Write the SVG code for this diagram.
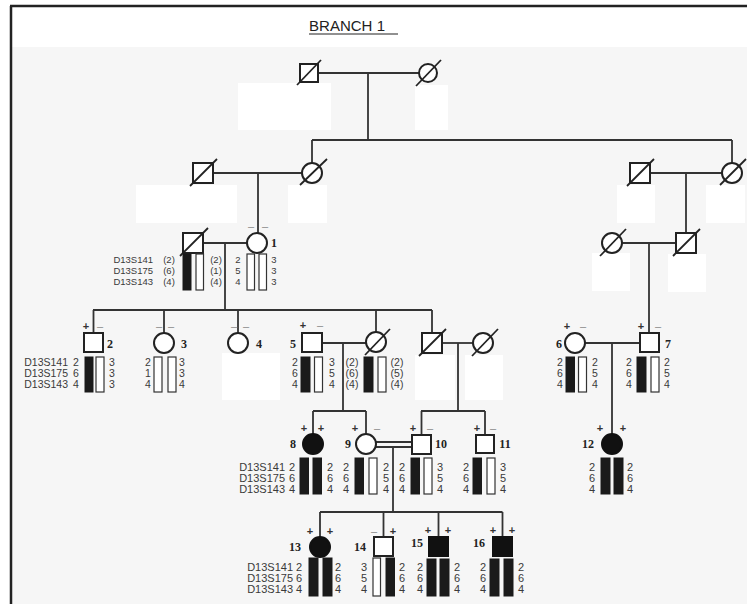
<svg xmlns="http://www.w3.org/2000/svg" width="747" height="604" viewBox="0 0 747 604">
<style>
.ln{stroke:#333;stroke-width:1.8;fill:none}
.sym{stroke:#222;stroke-width:2;fill:#fff}
.aff{stroke:#111;stroke-width:2;fill:#111}
.sl{stroke:#222;stroke-width:1.8}
.bf{fill:#1a1a1a;stroke:#1a1a1a;stroke-width:1}
.be{fill:#fff;stroke:#333;stroke-width:1.2}
.al{font-family:"Liberation Sans",Arial,sans-serif;fill:#3a3a3a;text-anchor:middle}
.nm{font-family:"Liberation Sans",Arial,sans-serif;fill:#3a3a3a;text-anchor:end}
.s3{font-size:9.5px}
.s4{font-size:10.5px}
.s5{font-size:11px}
.lb{font-family:"Liberation Serif","Times New Roman",serif;font-weight:bold;font-size:12px;fill:#222;text-anchor:middle}
.pm{font-family:"Liberation Sans",Arial,sans-serif;font-size:11px;font-weight:bold;fill:#333;text-anchor:middle}
.mn{fill:#888;font-weight:normal}
.wb{fill:#fff}
</style>
<rect x="0" y="0" width="747" height="604" fill="#fff"/>
<rect x="12" y="47" width="735" height="557" fill="#f6f6f6"/>
<g id="masks">
<rect class="wb" x="238" y="83" width="93" height="47"/>
<rect class="wb" x="415" y="85" width="33" height="45"/>
<rect class="wb" x="136" y="185" width="101" height="38"/>
<rect class="wb" x="288" y="185" width="39" height="38"/>
<rect class="wb" x="617" y="185" width="38" height="38"/>
<rect class="wb" x="706" y="185" width="39" height="38"/>
<rect class="wb" x="592" y="253" width="38" height="38"/>
<rect class="wb" x="668" y="254" width="38" height="38"/>
<rect class="wb" x="222" y="353" width="58" height="47"/>
<rect class="wb" x="415" y="355" width="40" height="45"/>
<rect class="wb" x="465" y="355" width="38" height="45"/>
</g>
<g id="frame">
<line x1="10" y1="6" x2="747" y2="6" stroke="#222" stroke-width="2.5"/>
<line x1="11" y1="6" x2="11" y2="604" stroke="#222" stroke-width="2.5"/>
</g>
<g id="title">
<text x="309" y="31" font-family="Liberation Sans,Arial,sans-serif" font-size="15" fill="#222" textLength="76" lengthAdjust="spacingAndGlyphs">BRANCH 1</text>
<line x1="309" y1="34" x2="398" y2="34" stroke="#222" stroke-width="1.2"/>
</g>
<g id="connectors" class="ln">
<line x1="318" y1="73" x2="419" y2="73"/>
<line x1="368" y1="73" x2="368" y2="140"/>
<line x1="312" y1="140" x2="732" y2="140"/>
<line x1="312" y1="140" x2="312" y2="163"/>
<line x1="732" y1="140" x2="732" y2="163"/>
<line x1="213" y1="173" x2="302" y2="173"/>
<line x1="258" y1="173" x2="258" y2="233"/>
<line x1="650" y1="173" x2="722" y2="173"/>
<line x1="686" y1="173" x2="686" y2="233"/>
<line x1="203" y1="243" x2="247" y2="243"/>
<line x1="225" y1="243" x2="225" y2="310"/>
<line x1="622" y1="243" x2="676" y2="243"/>
<line x1="649" y1="243" x2="649" y2="333"/>
<line x1="93" y1="310" x2="432" y2="310"/>
<line x1="93.5" y1="310" x2="93.5" y2="333"/>
<line x1="164" y1="310" x2="164" y2="333"/>
<line x1="238" y1="310" x2="238" y2="333"/>
<line x1="376" y1="310" x2="376" y2="332"/>
<line x1="432" y1="310" x2="432" y2="333"/>
<line x1="322" y1="343" x2="366" y2="343"/>
<line x1="343" y1="343" x2="343" y2="411"/>
<line x1="442" y1="343" x2="473" y2="343"/>
<line x1="458" y1="343" x2="458" y2="411"/>
<line x1="585" y1="343" x2="640" y2="343"/>
<line x1="612" y1="343" x2="612" y2="434"/>
<line x1="313" y1="411" x2="366" y2="411"/>
<line x1="313" y1="411" x2="313" y2="434"/>
<line x1="366" y1="411" x2="366" y2="434"/>
<line x1="421" y1="411" x2="485" y2="411"/>
<line x1="421.5" y1="411" x2="421.5" y2="435"/>
<line x1="485" y1="411" x2="485" y2="435"/>
<line x1="376" y1="442" x2="412" y2="442"/>
<line x1="376" y1="447" x2="412" y2="447"/>
<line x1="393" y1="447" x2="393" y2="512"/>
<line x1="320" y1="512" x2="502.5" y2="512"/>
<line x1="320" y1="512" x2="320" y2="537"/>
<line x1="383.5" y1="512" x2="383.5" y2="537"/>
<line x1="438.5" y1="512" x2="438.5" y2="536"/>
<line x1="502.5" y1="512" x2="502.5" y2="536"/>
</g>
<g id="I1"><rect class="sym" x="300" y="64" width="18" height="18"/><line class="sl" x1="297" y1="85" x2="321" y2="60"/></g>
<g id="I2"><circle class="sym" cx="428" cy="73" r="9"/><line class="sl" x1="416" y1="86" x2="441" y2="60"/></g>
<g id="II1"><rect class="sym" x="193" y="163" width="20" height="20"/><line class="sl" x1="190" y1="186" x2="217" y2="159"/></g>
<g id="II2"><circle class="sym" cx="312" cy="173" r="10"/><line class="sl" x1="300" y1="185" x2="327" y2="159"/></g>
<g id="II3"><rect class="sym" x="630" y="163" width="20" height="20"/><line class="sl" x1="627" y1="186" x2="654" y2="159"/></g>
<g id="II4"><circle class="sym" cx="732" cy="173" r="10"/><line class="sl" x1="720" y1="185" x2="746" y2="159"/></g>
<g id="III1">
<rect class="sym" x="183" y="233" width="20" height="20"/><line class="sl" x1="180" y1="256" x2="208" y2="228"/>
<text class="nm s3"><tspan x="153" y="263">D13S141</tspan><tspan x="153" y="274">D13S175</tspan><tspan x="153" y="285">D13S143</tspan></text>
<text class="al s3"><tspan x="169" y="263">(2)</tspan><tspan x="169" y="274">(6)</tspan><tspan x="169" y="285">(4)</tspan></text>
<rect class="bf" x="183" y="254" width="8" height="36"/><rect class="be" x="196" y="254" width="7.5" height="36"/>
<text class="al s3"><tspan x="216" y="263">(2)</tspan><tspan x="216" y="274">(1)</tspan><tspan x="216" y="285">(4)</tspan></text>
</g>
<g id="ind1">
<circle class="sym" cx="257" cy="243" r="10"/>
<text class="pm mn" x="251" y="230">–</text><text class="pm mn" x="265" y="230">–</text>
<text class="lb" x="274" y="247">1</text>
<text class="al s3"><tspan x="238" y="263">2</tspan><tspan x="238" y="274">5</tspan><tspan x="238" y="285">4</tspan></text>
<rect class="be" x="247" y="254" width="7.5" height="36"/><rect class="be" x="259" y="254" width="7.5" height="36"/>
<text class="al s3"><tspan x="274" y="263">3</tspan><tspan x="274" y="274">3</tspan><tspan x="274" y="285">3</tspan></text>
</g>
<g id="III3"><circle class="sym" cx="612" cy="243" r="10"/><line class="sl" x1="600" y1="256" x2="626" y2="229"/></g>
<g id="III4"><rect class="sym" x="676" y="233" width="20" height="20"/><line class="sl" x1="673" y1="256" x2="700" y2="229"/></g>
<g id="ind2">
<rect class="sym" x="84" y="333" width="19" height="19"/>
<text class="pm" x="86" y="330">+</text><text class="pm mn" x="100" y="330">–</text>
<text class="lb" x="110" y="348">2</text>
<text class="nm s4"><tspan x="68" y="366">D13S141</tspan><tspan x="68" y="377">D13S175</tspan><tspan x="68" y="388">D13S143</tspan></text>
<text class="al s4"><tspan x="76" y="366">2</tspan><tspan x="76" y="377">6</tspan><tspan x="76" y="388">4</tspan></text>
<rect class="bf" x="85" y="357" width="8" height="35"/><rect class="be" x="96" y="357" width="8" height="35"/>
<text class="al s4"><tspan x="112" y="366">3</tspan><tspan x="112" y="377">3</tspan><tspan x="112" y="388">3</tspan></text>
</g>
<g id="ind3">
<circle class="sym" cx="164" cy="343" r="10"/>
<text class="pm mn" x="159" y="330">–</text><text class="pm mn" x="171" y="330">–</text>
<text class="lb" x="184" y="348">3</text>
<text class="al s4"><tspan x="148" y="366">2</tspan><tspan x="148" y="377">1</tspan><tspan x="148" y="388">4</tspan></text>
<rect class="be" x="154" y="357" width="8" height="35"/><rect class="be" x="168" y="357" width="8" height="35"/>
<text class="al s4"><tspan x="182" y="366">3</tspan><tspan x="182" y="377">3</tspan><tspan x="182" y="388">4</tspan></text>
</g>
<g id="ind4">
<circle class="sym" cx="238" cy="343" r="10"/>
<text class="pm mn" x="234" y="330">–</text><text class="pm mn" x="246" y="330">–</text>
<text class="lb" x="259" y="348">4</text>
</g>
<g id="ind5">
<rect class="sym" x="302" y="333" width="20" height="19"/>
<text class="pm" x="303" y="329">+</text><text class="pm mn" x="320" y="329">–</text>
<text class="lb" x="293" y="348">5</text>
<text class="al s4"><tspan x="295" y="366">2</tspan><tspan x="295" y="377">6</tspan><tspan x="295" y="388">4</tspan></text>
<rect class="bf" x="301" y="357" width="9" height="35"/><rect class="be" x="314.5" y="357" width="8" height="35"/>
<text class="al s4"><tspan x="332" y="366">3</tspan><tspan x="332" y="377">5</tspan><tspan x="332" y="388">4</tspan></text>
</g>
<g id="IVd1">
<circle class="sym" cx="376" cy="342" r="10"/><line class="sl" x1="365" y1="355" x2="390" y2="329"/>
<text class="al s4"><tspan x="352" y="366">(2)</tspan><tspan x="352" y="377">(6)</tspan><tspan x="352" y="388">(4)</tspan></text>
<rect class="bf" x="364" y="357" width="9" height="35"/><rect class="be" x="378" y="357" width="8" height="35"/>
<text class="al s4"><tspan x="397" y="366">(2)</tspan><tspan x="397" y="377">(5)</tspan><tspan x="397" y="388">(4)</tspan></text>
</g>
<g id="IVd2"><rect class="sym" x="422" y="333" width="20" height="20"/><line class="sl" x1="419" y1="356" x2="446" y2="329"/></g>
<g id="IVd3"><circle class="sym" cx="483" cy="343" r="10"/><line class="sl" x1="472" y1="356" x2="498" y2="329"/></g>
<g id="ind6">
<circle class="sym" cx="575" cy="343" r="10"/>
<text class="pm" x="567" y="330">+</text><text class="pm mn" x="583" y="330">–</text>
<text class="lb" x="559" y="348">6</text>
<text class="al s4"><tspan x="560" y="366">2</tspan><tspan x="560" y="377">6</tspan><tspan x="560" y="388">4</tspan></text>
<rect class="bf" x="566" y="357" width="8.5" height="35"/><rect class="be" x="578.5" y="357" width="8" height="35"/>
<text class="al s4"><tspan x="595" y="366">2</tspan><tspan x="595" y="377">5</tspan><tspan x="595" y="388">4</tspan></text>
</g>
<g id="ind7">
<rect class="sym" x="640" y="333" width="19" height="19"/>
<text class="pm" x="641" y="330">+</text><text class="pm mn" x="658" y="330">–</text>
<text class="lb" x="668" y="348">7</text>
<text class="al s4"><tspan x="629" y="366">2</tspan><tspan x="629" y="377">6</tspan><tspan x="629" y="388">4</tspan></text>
<rect class="bf" x="637" y="357" width="9" height="35"/><rect class="be" x="651" y="357" width="8" height="35"/>
<text class="al s4"><tspan x="667" y="366">2</tspan><tspan x="667" y="377">5</tspan><tspan x="667" y="388">4</tspan></text>
</g>
<g id="ind8">
<circle class="aff" cx="313" cy="444" r="10"/>
<text class="pm" x="304" y="432">+</text><text class="pm" x="321" y="432">+</text>
<text class="lb" x="293" y="448">8</text>
<text class="nm s5"><tspan x="285" y="471">D13S141</tspan><tspan x="285" y="482">D13S175</tspan><tspan x="285" y="493">D13S143</tspan></text>
<text class="al s5"><tspan x="292" y="471">2</tspan><tspan x="292" y="482">6</tspan><tspan x="292" y="493">4</tspan></text>
<rect class="bf" x="300" y="458" width="8.5" height="36"/><rect class="bf" x="313" y="458" width="8.5" height="36"/>
<text class="al s5"><tspan x="330" y="471">2</tspan><tspan x="330" y="482">6</tspan><tspan x="330" y="493">4</tspan></text>
</g>
<g id="ind9">
<circle class="sym" cx="366" cy="444" r="10"/>
<text class="pm" x="355" y="432">+</text><text class="pm mn" x="377" y="432">–</text>
<text class="lb" x="348" y="448">9</text>
<text class="al s5"><tspan x="346" y="471">2</tspan><tspan x="346" y="482">6</tspan><tspan x="346" y="493">4</tspan></text>
<rect class="bf" x="355" y="458" width="8.5" height="36"/><rect class="be" x="369" y="458" width="8" height="36"/>
<text class="al s5"><tspan x="386" y="471">2</tspan><tspan x="386" y="482">5</tspan><tspan x="386" y="493">4</tspan></text>
</g>
<g id="ind10">
<rect class="sym" x="412" y="435" width="19" height="19" stroke-width="2.6"/>
<text class="pm" x="413" y="432">+</text><text class="pm mn" x="430" y="432">–</text>
<text class="lb" x="441" y="448">10</text>
<text class="al s5"><tspan x="402" y="471">2</tspan><tspan x="402" y="482">6</tspan><tspan x="402" y="493">4</tspan></text>
<rect class="bf" x="411" y="458" width="8.5" height="36"/><rect class="be" x="424" y="458" width="8" height="36"/>
<text class="al s5"><tspan x="440" y="471">3</tspan><tspan x="440" y="482">5</tspan><tspan x="440" y="493">4</tspan></text>
</g>
<g id="ind11">
<rect class="sym" x="476" y="435" width="18" height="18" stroke-width="2.6"/>
<text class="pm" x="477" y="432">+</text><text class="pm mn" x="493" y="432">–</text>
<text class="lb" x="505" y="448">11</text>
<text class="al s5"><tspan x="466" y="471">2</tspan><tspan x="466" y="482">6</tspan><tspan x="466" y="493">4</tspan></text>
<rect class="bf" x="473" y="458" width="8.5" height="36"/><rect class="be" x="487" y="458" width="8" height="36"/>
<text class="al s5"><tspan x="503" y="471">3</tspan><tspan x="503" y="482">5</tspan><tspan x="503" y="493">4</tspan></text>
</g>
<g id="ind12">
<circle class="aff" cx="612" cy="444" r="10"/>
<text class="pm" x="600" y="432">+</text><text class="pm" x="623" y="432">+</text>
<text class="lb" x="588" y="448">12</text>
<text class="al s5"><tspan x="592" y="471">2</tspan><tspan x="592" y="482">6</tspan><tspan x="592" y="493">4</tspan></text>
<rect class="bf" x="601" y="458" width="9" height="36"/><rect class="bf" x="614" y="458" width="9" height="36"/>
<text class="al s5"><tspan x="630" y="471">2</tspan><tspan x="630" y="482">6</tspan><tspan x="630" y="493">4</tspan></text>
</g>
<g id="ind13">
<circle class="aff" cx="320" cy="547" r="10"/>
<text class="pm" x="310" y="535">+</text><text class="pm" x="330" y="535">+</text>
<text class="lb" x="295" y="551">13</text>
<text class="nm s5"><tspan x="293" y="571">D13S141</tspan><tspan x="293" y="582">D13S175</tspan><tspan x="293" y="593">D13S143</tspan></text>
<text class="al s5"><tspan x="299" y="571">2</tspan><tspan x="299" y="582">6</tspan><tspan x="299" y="593">4</tspan></text>
<rect class="bf" x="309" y="558" width="9" height="38"/><rect class="bf" x="323" y="558" width="9" height="38"/>
<text class="al s5"><tspan x="338" y="571">2</tspan><tspan x="338" y="582">6</tspan><tspan x="338" y="593">4</tspan></text>
</g>
<g id="ind14">
<rect class="sym" x="374" y="537" width="19" height="19" stroke-width="2.6"/>
<text class="pm mn" x="374" y="535">–</text><text class="pm" x="393" y="535">+</text>
<text class="lb" x="360" y="551">14</text>
<text class="al s5"><tspan x="364" y="571">3</tspan><tspan x="364" y="582">5</tspan><tspan x="364" y="593">4</tspan></text>
<rect class="be" x="373" y="558" width="7.5" height="38"/><rect class="bf" x="386" y="558" width="8.5" height="38"/>
<text class="al s5"><tspan x="402" y="571">2</tspan><tspan x="402" y="582">6</tspan><tspan x="402" y="593">4</tspan></text>
</g>
<g id="ind15">
<rect class="aff" x="429" y="537" width="19" height="19"/>
<text class="pm" x="428" y="534">+</text><text class="pm" x="448" y="534">+</text>
<text class="lb" x="417" y="547">15</text>
<text class="al s5"><tspan x="420" y="571">2</tspan><tspan x="420" y="582">6</tspan><tspan x="420" y="593">4</tspan></text>
<rect class="bf" x="427" y="559" width="9" height="37"/><rect class="bf" x="440" y="559" width="9" height="37"/>
<text class="al s5"><tspan x="457" y="571">2</tspan><tspan x="457" y="582">6</tspan><tspan x="457" y="593">4</tspan></text>
</g>
<g id="ind16">
<rect class="aff" x="493" y="537" width="19" height="19"/>
<text class="pm" x="493" y="534">+</text><text class="pm" x="512" y="534">+</text>
<text class="lb" x="479" y="547">16</text>
<text class="al s5"><tspan x="483" y="571">2</tspan><tspan x="483" y="582">6</tspan><tspan x="483" y="593">4</tspan></text>
<rect class="bf" x="490" y="559" width="9" height="37"/><rect class="bf" x="504" y="559" width="9" height="37"/>
<text class="al s5"><tspan x="521" y="571">2</tspan><tspan x="521" y="582">6</tspan><tspan x="521" y="593">4</tspan></text>
</g>
</svg>
